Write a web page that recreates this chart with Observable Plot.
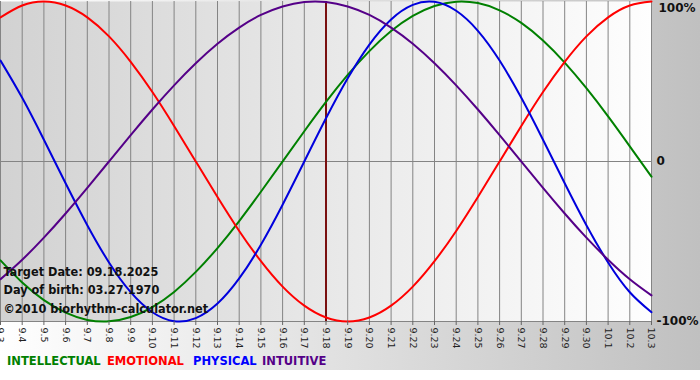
<!DOCTYPE html>
<html>
<head>
<meta charset="utf-8">
<script src="https://cdn.jsdelivr.net/npm/d3@7"></script>
<script src="https://cdn.jsdelivr.net/npm/@observablehq/plot@0.6"></script>
<style>
  body { margin: 0; background: #ffffff; }
  #wrap { position: relative; width: 700px; height: 380px; overflow: hidden; }
  #bg { position: absolute; left: 0; top: 0; width: 700px; height: 370px;
        background: linear-gradient(to right, #ffffff, #c0c0c0); }
  #chart { position: absolute; left: 0; top: 0; }
  .lg { position: absolute; top: 353px; font: bold 12.8px "DejaVu Sans Condensed", "DejaVu Sans", sans-serif; white-space: nowrap; }
</style>
</head>
<body>
<div id="wrap">
  <div id="bg"></div>
  <div id="chart"></div>
  <div class="lg" style="left:7px;color:#008000">INTELLECTUAL</div>
  <div class="lg" style="left:107px;color:#ff0000">EMOTIONAL</div>
  <div class="lg" style="left:193px;color:#0000ff">PHYSICAL</div>
  <div class="lg" style="left:262px;color:#550088">INTUITIVE</div>
</div>
<script>
// Day tick labels (Sept 3 .. Oct 3)
const dayLabels = ["9.3","9.4","9.5","9.6","9.7","9.8","9.9","9.10","9.11","9.12","9.13","9.14","9.15","9.16","9.17","9.18","9.19","9.20","9.21","9.22","9.23","9.24","9.25","9.26","9.27","9.28","9.29","9.30","10.1","10.2","10.3"];

// Series values (fraction of 100%) per day
const intellectual = [-0.618,-0.756,-0.866,-0.945,-0.990,-0.999,-0.972,-0.910,-0.815,-0.690,-0.541,-0.372,-0.189,0,0.189,0.372,0.541,0.690,0.815,0.910,0.972,0.999,0.990,0.945,0.866,0.756,0.618,0.458,0.282,0.095,-0.095];
const emotional = [0.901,0.975,1,0.975,0.901,0.782,0.623,0.434,0.222,0,-0.222,-0.434,-0.623,-0.782,-0.901,-0.975,-1,-0.975,-0.901,-0.782,-0.623,-0.434,-0.222,0,0.222,0.434,0.623,0.782,0.901,0.975,1];
const physical = [0.631,0.398,0.136,-0.136,-0.398,-0.631,-0.817,-0.942,-0.998,-0.979,-0.888,-0.731,-0.520,-0.270,0,0.270,0.520,0.731,0.888,0.979,0.998,0.942,0.817,0.631,0.398,0.136,-0.136,-0.398,-0.631,-0.817,-0.942];
const intuitive = [-0.736,-0.614,-0.476,-0.325,-0.165,0,0.165,0.325,0.476,0.614,0.736,0.837,0.916,0.969,0.997,0.997,0.969,0.916,0.837,0.736,0.614,0.476,0.325,0.165,0,-0.165,-0.325,-0.476,-0.614,-0.736,-0.837];

const seriesNames = ["INTELLECTUAL","EMOTIONAL","PHYSICAL","INTUITIVE"];
const seriesColors = ["#008000","#ff0000","#0000dd","#550088"];
const targetDay = "9.18";
const yTickValues = [1, 0, -1];
const yTickLabels = ["100%", "0", "-100%"];
const infoLines = ["Target Date: 09.18.2025", "Day of birth: 03.27.1970", "\u00a92010 biorhythm-calculator.net"];
const infoY = [-0.69, -0.80, -0.92];

const seriesValues = [intellectual, emotional, physical, intuitive];
const dayIdx = dayLabels.map((d, i) => i);
const data = seriesNames.flatMap((name, s) => seriesValues[s].map((v, i) => ({ i, v, name })));
const yTicks = yTickValues.map((v, k) => ({ v, label: yTickLabels[k] }));
const info = infoLines.map((t, k) => ({ t, y: infoY[k] }));

const chart = Plot.plot({
  width: 700,
  height: 370,
  marginLeft: 0,
  marginRight: 49,
  marginTop: 1,
  marginBottom: 49,
  style: { background: "transparent", fontFamily: "DejaVu Sans, sans-serif", overflow: "visible" },
  x: { domain: [0, dayLabels.length - 1] },
  y: { domain: [-1, 1] },
  color: { domain: seriesNames, range: seriesColors },
  marks: [
    Plot.frame({ fill: "url(#plotbg)", stroke: null }),
    Plot.ruleX(dayIdx, { x: d => d, stroke: "#848484", strokeWidth: 1 }),
    Plot.ruleY([0], { stroke: "#848484", strokeWidth: 1 }),
    Plot.ruleY([-1], { stroke: "#848484", strokeWidth: 1 }),
    Plot.ruleX([dayLabels.indexOf(targetDay)], { stroke: "#7a1010", strokeWidth: 2 }),
    Plot.line(data, { x: "i", y: "v", z: "name", stroke: "name", strokeWidth: 2, curve: "natural" }),
    Plot.axisX({ ticks: dayIdx, tickFormat: i => dayLabels[i], tickRotate: 90, tickSize: 4, tickPadding: 2, fontSize: 9.5, stroke: "#666", fill: "#222", label: null }),
    Plot.text(info, { x: () => 0, y: "y", text: "t", dx: 3, textAnchor: "start", fontWeight: "bold", fontSize: 12.6, fill: "#111",
      fontFamily: "DejaVu Sans Condensed, DejaVu Sans, sans-serif" }),
    Plot.text(yTicks.filter(t => t.v === 1), { x: () => dayLabels.length - 1, y: "v", text: "label", dx: 7, dy: 7, textAnchor: "start", fontWeight: "bold", fontSize: 12, fill: "#111" }),
    Plot.text(yTicks.filter(t => t.v !== 1), { x: () => dayLabels.length - 1, y: "v", text: "label", dx: 5, textAnchor: "start", fontWeight: "bold", fontSize: 12, fill: "#111" })
  ]
});

// gradient for plot area
const ns = "http://www.w3.org/2000/svg";
const defs = document.createElementNS(ns, "defs");
defs.innerHTML = '<linearGradient id="plotbg" x1="0" x2="1" y1="0" y2="0"><stop offset="0" stop-color="#d2d2d2"/><stop offset="1" stop-color="#fefefe"/></linearGradient>';
chart.insertBefore(defs, chart.firstChild);
document.getElementById("chart").appendChild(chart);
</script>
</body>
</html>
